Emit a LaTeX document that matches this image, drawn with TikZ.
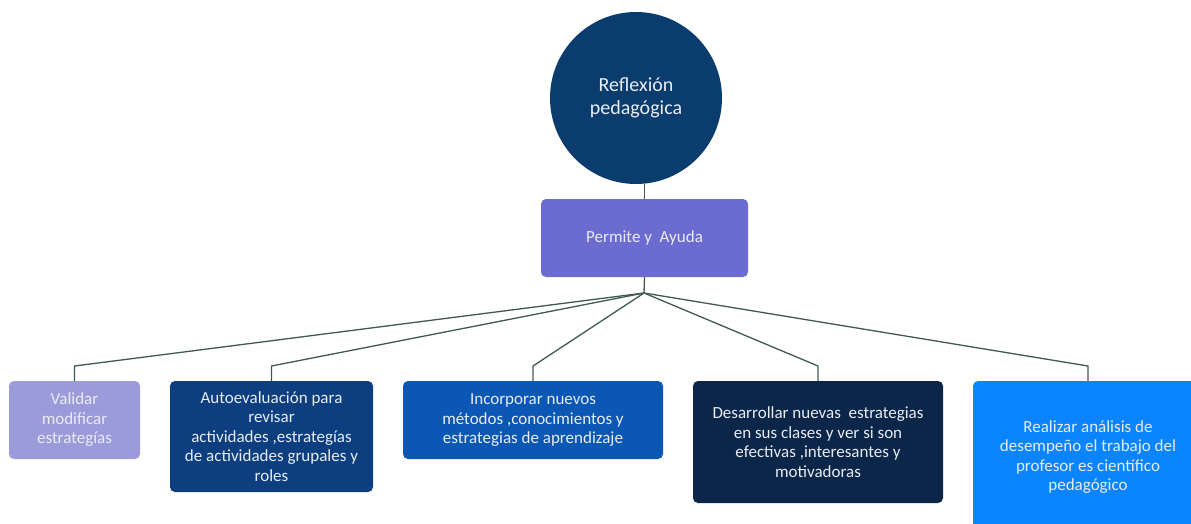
\documentclass[tikz,border=0pt]{standalone}
\usepackage{fontspec}
\setmainfont{Carlito}
\definecolor{navy}{HTML}{0B3C6E}
\definecolor{perm}{HTML}{6C6BCF}
\definecolor{lilac}{HTML}{9B9BDC}
\definecolor{dblue}{HTML}{0D3F80}
\definecolor{mblue}{HTML}{0A58B3}
\definecolor{ddark}{HTML}{0B2649}
\definecolor{bright}{HTML}{0A84FF}
\definecolor{txt}{HTML}{E9ECF2}
\definecolor{conn}{HTML}{3F5955}
\tikzset{
  box/.style={rectangle, rounded corners=5pt, inner sep=0pt, align=center,
    text=txt, font=\fontsize{17}{19.5}\selectfont},
  link/.style={draw=conn, line width=1.3pt},
}
\begin{document}
\begin{tikzpicture}[x=1pt,y=-1pt]
\useasboundingbox (0,0) rectangle (1191,523);
\clip (0,0) rectangle (1191,523);
\node[circle, fill=navy, minimum size=172pt, inner sep=0pt, align=center, text=txt,
  font=\fontsize{20}{23.5}\selectfont] (circ) at (636,98) {Reflexión\\pedagógica};
\node[box, fill=perm, minimum width=207pt, minimum height=78pt] (perm) at (644.5,238) {Permite y\ \ Ayuda};
\node[box, fill=lilac, minimum width=131pt, minimum height=78pt] (b1) at (74.5,420) {Validar\\modificar\\estrategías};
\node[box, fill=dblue, minimum width=203pt, minimum height=111pt] (b2) at (271.5,436.5) {Autoevaluación para\\revisar\\actividades ,estrategías\\de actividades grupales y\\roles};
\node[box, fill=mblue, minimum width=260pt, minimum height=78pt] (b3) at (533,420) {Incorporar nuevos\\métodos ,conocimientos y\\estrategias de aprendizaje};
\node[box, fill=ddark, minimum width=250pt, minimum height=122pt] (b4) at (818,442) {Desarrollar nuevas\ \ estrategias\\en sus clases y ver si son\\efectivas ,interesantes y\\motivadoras};
\node[box, fill=bright, minimum width=230pt, minimum height=152pt] (b5) at (1088,457) {Realizar análisis de\\desempeño el trabajo del\\profesor es científico\\pedagógico};
\coordinate (j) at (644,293);
\coordinate (e) at (0,366);
\draw[link] (perm.north) -- (perm.north |- circ.south);
\draw[link] (perm.south) -- (j);
\foreach \b in {b1,b2,b3,b4,b5}{
  \draw[link] (j) -- (\b.north |- e) -- (\b.north);
}
\end{tikzpicture}
\end{document}
